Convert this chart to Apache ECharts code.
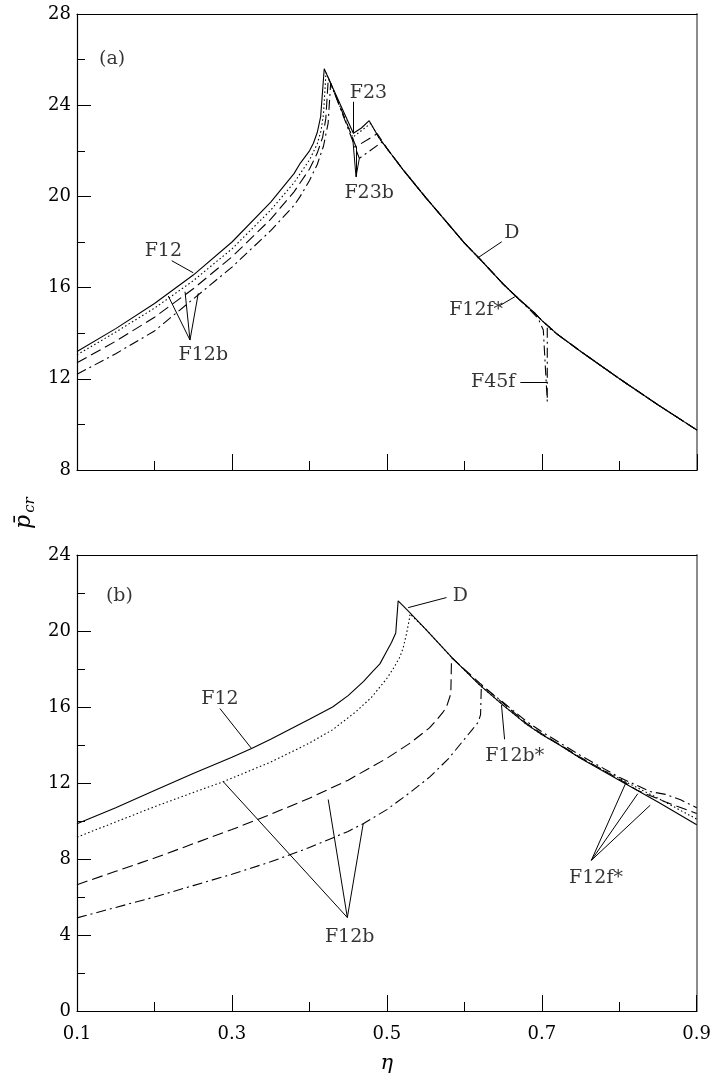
<!DOCTYPE html>
<html><head><meta charset="utf-8">
<script src="https://cdn.jsdelivr.net/npm/echarts@6/dist/echarts.min.js"></script>
<style>html,body{margin:0;padding:0;background:#fff}#c{width:714px;height:1079px}</style>
</head><body><div id="c"></div>
<script>
// ---------- Panel (a) data ----------
const aD_eta = [0.49, 0.50, 0.52, 0.55, 0.58, 0.60, 0.62, 0.65, 0.67, 0.69, 0.70, 0.72, 0.75, 0.80, 0.85, 0.90];
const aD_val = [22.55, 22.1, 21.2, 19.95, 18.75, 17.95, 17.25, 16.15, 15.5, 14.9, 14.55, 13.95, 13.2, 12.0, 10.85, 9.75];

const aSolid_eta = [0.1, 0.15, 0.2, 0.25, 0.3, 0.35, 0.38, 0.388, 0.4, 0.405, 0.41, 0.4144, 0.419, 0.43, 0.445, 0.4566, 0.467, 0.477];
const aSolid_val = [13.2, 14.2, 15.3, 16.55, 18.0, 19.75, 21.0, 21.45, 22.0, 22.33, 22.8, 23.5, 25.6, 24.77, 23.64, 22.77, 23.0, 23.32];

const aDot_eta = [0.1, 0.15, 0.2, 0.25, 0.3, 0.35, 0.38, 0.388, 0.4, 0.41, 0.415, 0.418, 0.4213, 0.435, 0.4557, 0.479];
const aDot_val = [13.05, 14.05, 15.1, 16.3, 17.7, 19.4, 20.6, 21.0, 21.6, 22.3, 22.9, 23.6, 25.43, 24.3, 22.59, 23.2];

const aDash_eta = [0.1, 0.15, 0.2, 0.25, 0.3, 0.35, 0.38, 0.388, 0.4, 0.41, 0.417, 0.421, 0.4243, 0.44, 0.46, 0.4875];
const aDash_val = [12.7, 13.65, 14.7, 15.95, 17.35, 19.0, 20.2, 20.6, 21.2, 21.9, 22.6, 23.4, 25.2, 23.9, 22.18, 22.75];

const aDD_eta = [0.1, 0.15, 0.2, 0.25, 0.3, 0.35, 0.38, 0.388, 0.4, 0.41, 0.418, 0.424, 0.4273, 0.445, 0.4643, 0.4943];
const aDD_val = [12.2, 13.1, 14.1, 15.5, 16.9, 18.5, 19.6, 20.0, 20.7, 21.4, 22.2, 23.2, 24.97, 23.4, 21.67, 22.4];
// F45f branch of the dash-dot curve
const aDD_tail_eta = [0.50, 0.52, 0.55, 0.58, 0.60, 0.62, 0.65, 0.67, 0.685, 0.695, 0.7017, 0.7068, 0.7068, 0.72, 0.75, 0.80, 0.85, 0.90];
const aDD_tail_val = [22.1, 21.2, 19.95, 18.75, 17.95, 17.25, 16.15, 15.5, 15.0, 14.65, 14.14, 11.0, 14.28, 13.95, 13.2, 12.0, 10.85, 9.75];

// annotation texts (a)
const aLab_text = ['(a)', 'F23', 'F23b', 'F12', 'F12b', 'D', 'F12f*', 'F45f'];
const aLab_eta  = [0.129, 0.476, 0.477, 0.2114, 0.263, 0.661, 0.615, 0.637];
const aLab_val  = [26.0, 24.52, 20.14, 17.62, 13.04, 18.38, 15.0, 11.87];
// pointer segments (a): [eta1, val1, eta2, val2]
const aPtr = [
  [0.4565, 24.15, 0.4565, 22.77],
  [0.46, 20.86, 0.4557, 22.59],
  [0.46, 20.86, 0.46, 22.18],
  [0.46, 20.86, 0.4643, 21.67],
  [0.2222, 17.18, 0.25, 16.65],
  [0.2458, 13.70, 0.2178, 15.63],
  [0.2458, 13.70, 0.2394, 15.82],
  [0.2458, 13.70, 0.2565, 15.75],
  [0.648, 18.01, 0.617, 17.3],
  [0.645, 15.2, 0.665, 15.6],
  [0.672, 11.87, 0.7068, 11.87]
];

// ---------- Panel (b) data ----------
const bSolid_eta = [0.1, 0.15, 0.2, 0.25, 0.3, 0.3254, 0.35, 0.4, 0.43, 0.45, 0.47, 0.48, 0.491, 0.5, 0.506, 0.5115, 0.5146,
                    0.53, 0.55, 0.5835, 0.62, 0.65, 0.68, 0.7, 0.723, 0.75, 0.8, 0.85, 0.9];
const bSolid_val = [9.85, 10.7, 11.6, 12.5, 13.35, 13.81, 14.3, 15.35, 16.0, 16.6, 17.35, 17.8, 18.27, 18.95, 19.4, 19.9, 21.59,
                    20.95, 20.1, 18.62, 17.15, 16.1, 15.1, 14.55, 14.0, 13.3, 12.15, 11.0, 9.8];

const bDot_eta = [0.1, 0.15, 0.2, 0.25, 0.289, 0.35, 0.4, 0.43, 0.46, 0.48, 0.491, 0.5, 0.508, 0.5168, 0.521, 0.5254, 0.5288, 0.53,
                  0.55, 0.5835, 0.62, 0.65, 0.68, 0.7, 0.723, 0.75, 0.809, 0.85, 0.9];
const bDot_val = [9.15, 9.95, 10.75, 11.5, 12.07, 13.1, 14.1, 14.8, 15.75, 16.5, 17.05, 17.5, 18.0, 18.63, 19.1, 19.86, 20.56, 20.9,
                  20.1, 18.62, 17.15, 16.1, 15.1, 14.55, 14.0, 13.3, 12.05, 11.2, 10.1];

const bDash_eta = [0.1, 0.15, 0.2, 0.25, 0.3, 0.35, 0.4, 0.45, 0.5, 0.53, 0.555, 0.564, 0.572, 0.577, 0.5826, 0.5835,
                   0.62, 0.65, 0.68, 0.7, 0.75, 0.8, 0.824, 0.86, 0.9];
const bDash_val = [6.65, 7.35, 8.05, 8.8, 9.55, 10.35, 11.2, 12.15, 13.3, 14.1, 14.9, 15.3, 15.7, 16.0, 16.7, 18.6,
                   17.25, 16.2, 15.15, 14.6, 13.35, 12.2, 11.6, 11.0, 10.4];

const bDD_eta = [0.1, 0.15, 0.2, 0.25, 0.3, 0.35, 0.4, 0.45, 0.4695, 0.5, 0.53, 0.5555, 0.58, 0.6, 0.61, 0.618, 0.621, 0.622,
                 0.65, 0.68, 0.7, 0.75, 0.8, 0.84, 0.86, 0.88, 0.9];
const bDD_val = [4.9, 5.45, 6.0, 6.6, 7.2, 7.85, 8.6, 9.45, 9.86, 10.6, 11.5, 12.32, 13.3, 14.3, 14.8, 15.2, 15.6, 17.15,
                 16.25, 15.25, 14.7, 13.45, 12.3, 11.55, 11.4, 11.1, 10.7];

const bLab_text = ['(b)', 'F12', 'F12b', 'D', 'F12b*', 'F12f*'];
const bLab_eta  = [0.138, 0.2845, 0.452, 0.595, 0.665, 0.77];
const bLab_val  = [21.79, 16.44, 3.9, 21.83, 13.4, 7.0];
const bPtr = [
  [0.2845, 15.92, 0.3254, 13.81],
  [0.449, 4.92, 0.2888, 12.07],
  [0.449, 4.92, 0.4243, 11.13],
  [0.449, 4.92, 0.4695, 9.86],
  [0.577, 21.76, 0.5275, 21.23],
  [0.648, 16.1, 0.652, 14.3],
  [0.764, 7.93, 0.809, 12.05],
  [0.764, 7.93, 0.824, 11.44],
  [0.764, 7.93, 0.84, 10.83]
];

// ---------- build ----------
const FONT = 'DejaVu Serif';
const zip = (xs, ys) => xs.map((x, i) => [x, ys[i]]);
const STY = { solid: 'solid', dot: [1.5, 2.5], dash: [11, 5], dd: [10, 4, 2, 4] };

function curve(p, data, type) {
  return { type: 'line', xAxisIndex: p * 2, yAxisIndex: p * 2, data, symbol: 'none', silent: true,
           lineStyle: { color: '#000', width: 1.1, type }, z: 3 };
}
function labels(p, txt, xs, ys) {
  return { type: 'scatter', xAxisIndex: p * 2, yAxisIndex: p * 2, symbolSize: 1, silent: true,
    itemStyle: { color: 'rgba(0,0,0,0)' },
    data: txt.map((t, i) => ({ value: [xs[i], ys[i]], name: t,
      label: (t[0] === '(') ? { align: 'left', position: [0, 0], verticalAlign: 'middle' } : {} })),
    label: { show: true, position: 'inside', formatter: '{b}', color: '#000', fontFamily: FONT, fontSize: 19 },
    z: 5 };
}
function pointers(p, segs) {
  return { type: 'lines', coordinateSystem: 'cartesian2d', xAxisIndex: p * 2, yAxisIndex: p * 2, silent: true,
    polyline: false, lineStyle: { color: '#000', width: 1, opacity: 1 },
    data: segs.map(s => ({ coords: [[s[0], s[1]], [s[2], s[3]]] })), z: 4 };
}

const series = [
  curve(0, zip(aSolid_eta, aSolid_val).concat(zip(aD_eta, aD_val)), STY.solid),
  curve(0, zip(aDot_eta, aDot_val).concat(zip(aD_eta, aD_val)), STY.dot),
  curve(0, zip(aDash_eta, aDash_val).concat(zip(aD_eta.slice(1), aD_val.slice(1))), STY.dash),
  curve(0, zip(aDD_eta, aDD_val).concat(zip(aDD_tail_eta, aDD_tail_val)), STY.dd),
  labels(0, aLab_text, aLab_eta, aLab_val),
  pointers(0, aPtr),
  curve(1, zip(bSolid_eta, bSolid_val), STY.solid),
  curve(1, zip(bDot_eta, bDot_val), STY.dot),
  curve(1, zip(bDash_eta, bDash_val), STY.dash),
  curve(1, zip(bDD_eta, bDD_val), STY.dd),
  labels(1, bLab_text, bLab_eta, bLab_val),
  pointers(1, bPtr)
];

const grids = [
  { left: 77, top: 14, width: 620, height: 456 },
  { left: 77, top: 555, width: 620, height: 456 }
];
const blk = { color: '#000', width: 1.2 };
function xMain(g, showLabels) {
  return { gridIndex: g, type: 'value', min: 0.1, max: 0.9, interval: 0.2, position: 'bottom',
    axisLine: { show: true, onZero: false, lineStyle: blk },
    axisTick: { show: true, inside: true, length: 16, lineStyle: { color: '#000', width: 1 } },
    minorTick: { show: true, splitNumber: 2, length: 9, lineStyle: { color: '#000', width: 1 } },
    splitLine: { show: false }, minorSplitLine: { show: false },
    axisLabel: { show: showLabels, color: '#000', fontFamily: FONT, fontSize: 18, margin: 14,
                 formatter: v => (+v).toFixed(1) },
    name: showLabels ? 'η' : '', nameLocation: 'middle', nameGap: 42,
    nameTextStyle: { fontFamily: FONT, fontStyle: 'italic', fontSize: 21, color: '#000' } };
}
function xTop(g) {
  return { gridIndex: g, type: 'value', min: 0.1, max: 0.9, position: 'top',
    axisLine: { show: true, onZero: false, lineStyle: blk }, axisTick: { show: false },
    axisLabel: { show: false }, splitLine: { show: false } };
}
function yMain(g, mn, mx) {
  return { gridIndex: g, type: 'value', min: mn, max: mx, interval: 4, position: 'left',
    axisLine: { show: true, onZero: false, lineStyle: blk },
    axisTick: { show: true, inside: true, length: 14, lineStyle: { color: '#000', width: 1 } },
    minorTick: { show: true, splitNumber: 2, length: 8, lineStyle: { color: '#000', width: 1 } },
    splitLine: { show: false }, minorSplitLine: { show: false },
    axisLabel: { color: '#000', fontFamily: FONT, fontSize: 18, margin: 6 } };
}
function yRight(g, mn, mx) {
  return { gridIndex: g, type: 'value', min: mn, max: mx, position: 'right',
    axisLine: { show: true, onZero: false, lineStyle: { color: '#8c8c8c', width: 2 } },
    axisTick: { show: false }, axisLabel: { show: false }, splitLine: { show: false } };
}

const chart = echarts.init(document.getElementById('c'), null, { renderer: 'canvas' });
chart.setOption({
  backgroundColor: '#fff',
  animation: false,
  grid: grids,
  xAxis: [xMain(0, false), xTop(0), xMain(1, true), xTop(1)],
  yAxis: [yMain(0, 8, 28), yRight(0, 8, 28), yMain(1, 0, 24), yRight(1, 0, 24)],
  series,
  graphic: [{
    type: 'group', x: 24, y: 512, rotation: Math.PI / 2,
    children: [
      { type: 'text', x: -10, y: 0, style: { text: 'p\u0304', fontFamily: FONT, fontStyle: 'italic', fontSize: 22,
        fill: '#000', align: 'center', verticalAlign: 'middle' } },
      { type: 'text', x: 7, y: 6, style: { text: 'cr', fontFamily: FONT, fontStyle: 'italic', fontSize: 15,
        fill: '#000', align: 'center', verticalAlign: 'middle' } }
    ]
  }]
});
</script></body></html>
